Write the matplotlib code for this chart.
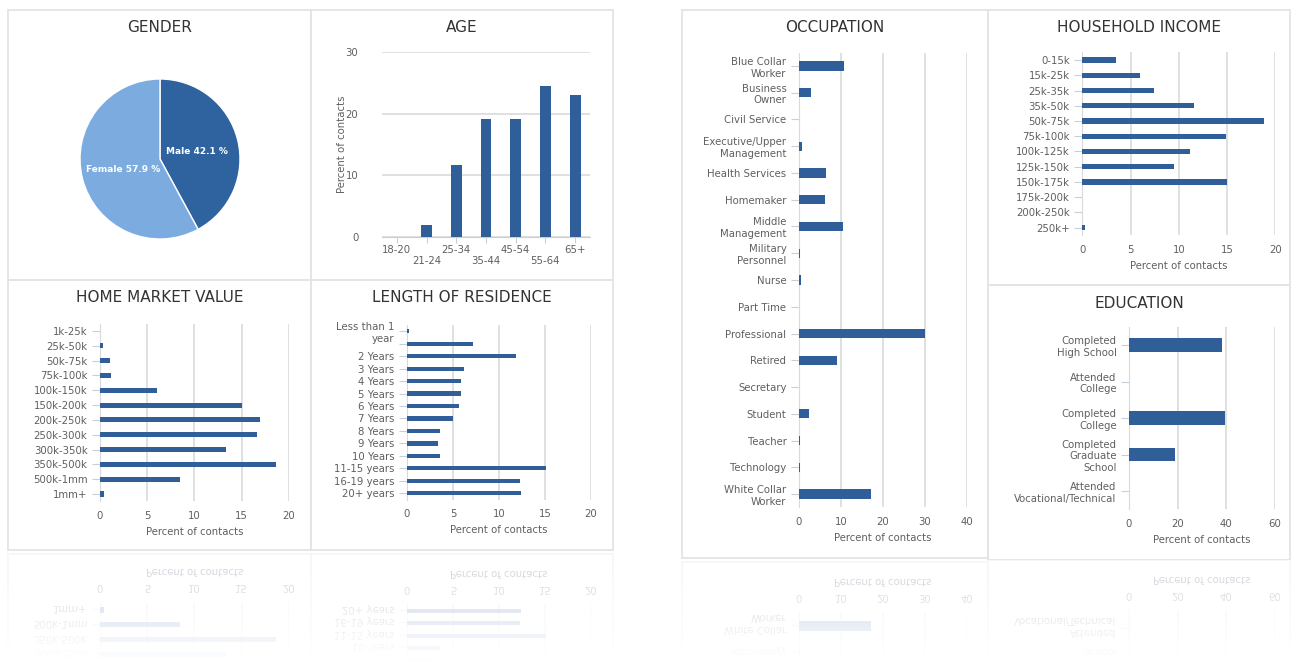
import numpy as np
import matplotlib.pyplot as plt
from matplotlib.patches import Rectangle

# ==========================================
# 1. DADOS
# ==========================================
genero_rotulos = ['Male', 'Female']
genero_pct = [42.1, 57.9]

idade_cats = ['18-20', '21-24', '25-34', '35-44', '45-54', '55-64', '65+']
idade_pct = [0.0, 2.0, 11.7, 19.1, 19.1, 24.5, 23.0]

imovel_cats = ['1k-25k', '25k-50k', '50k-75k', '75k-100k', '100k-150k', '150k-200k',
               '200k-250k', '250k-300k', '300k-350k', '350k-500k', '500k-1mm', '1mm+']
imovel_pct = [0.0, 0.35, 1.1, 1.2, 6.0, 15.1, 17.0, 16.6, 13.4, 18.7, 8.5, 0.4]

residencia_cats = ['Less than 1\nyear', '1 Year', '2 Years', '3 Years', '4 Years', '5 Years',
                   '6 Years', '7 Years', '8 Years', '9 Years', '10 Years',
                   '11-15 years', '16-19 years', '20+ years']
residencia_pct = [0.2, 7.2, 11.8, 6.2, 5.9, 5.9, 5.6, 5.0, 3.6, 3.4, 3.6, 15.1, 12.3, 12.4]

ocupacao_cats = ['Blue Collar\nWorker', 'Business\nOwner', 'Civil Service',
                 'Executive/Upper\nManagement', 'Health Services', 'Homemaker',
                 'Middle\nManagement', 'Military\nPersonnel', 'Nurse', 'Part Time',
                 'Professional', 'Retired', 'Secretary', 'Student', 'Teacher',
                 'Technology', 'White Collar\nWorker']
ocupacao_pct = [10.8, 2.9, 0.0, 0.8, 6.4, 6.3, 10.6, 0.3, 0.5, 0.0,
                30.0, 9.1, 0.0, 2.3, 0.3, 0.3, 17.1]

renda_cats = ['0-15k', '15k-25k', '25k-35k', '35k-50k', '50k-75k', '75k-100k',
              '100k-125k', '125k-150k', '150k-175k', '175k-200k', '200k-250k', '250k+']
renda_pct = [3.5, 6.0, 7.4, 11.6, 18.8, 14.9, 11.2, 9.5, 15.0, 0.0, 0.0, 0.3]

educacao_cats = ['Completed\nHigh School', 'Attended\nCollege', 'Completed\nCollege',
                 'Completed\nGraduate\nSchool', 'Attended\nVocational/Technical']
educacao_pct = [38.1, 0.0, 39.6, 18.9, 0.0]

# ==========================================
# 2. ESTILO E LAYOUT (em pixels)
# ==========================================
W, H = 1294, 662
AZUL = '#2f5e98'
AZUL_ESCURO = '#2f63a0'
AZUL_CLARO = '#7cacdf'
GRADE = '#dadada'
EIXO = '#c6d0dc'
TEXTO = '#5f5f5f'
TITULO = '#333333'
FS = 7.3

plt.rcParams['font.family'] = 'DejaVu Sans'

fig = plt.figure(figsize=(W / 100, H / 100), dpi=100)
fig.patch.set_facecolor('white')


def caixa(x0, y0, x1, y1):
    return [x0 / W, 1 - y1 / H, (x1 - x0) / W, (y1 - y0) / H]


def painel(x0, y0, x1, y1, titulo, ty):
    fig.add_artist(Rectangle((x0 / W, 1 - y1 / H), (x1 - x0) / W, (y1 - y0) / H,
                             transform=fig.transFigure, fill=False,
                             ec='#e4e4e4', lw=1.3))
    fig.text((x0 + x1) / 2 / W, 1 - ty / H, titulo, ha='center', va='center',
             fontsize=11, color=TITULO)


def barras_h(ret, cats, vals, xmax, passo, rotulos=None, altura=0.34):
    ax = fig.add_axes(caixa(*ret))
    y = np.arange(len(cats))
    ax.barh(y, vals, height=altura, color=AZUL, zorder=3)
    ax.set_ylim(len(cats) - 0.5, -0.5)
    ax.set_xlim(0, xmax)
    ax.set_xticks(np.arange(0, xmax + 1, passo))
    ax.set_yticks(y, cats if rotulos is None else rotulos)
    ax.grid(axis='x', color=GRADE, lw=1.2, zorder=0)
    for s in ['top', 'right', 'bottom']:
        ax.spines[s].set_visible(False)
    ax.spines['left'].set_color(GRADE)
    ax.tick_params(axis='y', length=6, width=0.8, color=EIXO, labelsize=FS,
                   labelcolor=TEXTO, pad=3)
    ax.tick_params(axis='x', length=0, labelsize=FS, labelcolor=TEXTO, pad=7)
    ax.set_xlabel('Percent of contacts', fontsize=FS, color=TEXTO, labelpad=4)
    return ax


# ==========================================
# 3. GRÁFICOS
# ==========================================
painel(8, 10, 311, 280, 'GENDER', 28)
painel(311, 10, 613, 280, 'AGE', 28)
painel(8, 280, 311, 550, 'HOME MARKET VALUE', 298)
painel(311, 280, 613, 550, 'LENGTH OF RESIDENCE', 298)
painel(682, 10, 988, 558, 'OCCUPATION', 28)
painel(988, 10, 1290, 285, 'HOUSEHOLD INCOME', 28)
painel(988, 285, 1290, 560, 'EDUCATION', 303)

# Gênero (pizza)
ax_g = fig.add_axes(caixa(80, 79, 240, 239))
fatias, _ = ax_g.pie(genero_pct, colors=[AZUL_ESCURO, AZUL_CLARO], startangle=90,
                     counterclock=False, radius=1,
                     wedgeprops=dict(edgecolor='white', linewidth=1))
for fatia, rot, pct in zip(fatias, genero_rotulos, genero_pct):
    ang = np.deg2rad((fatia.theta1 + fatia.theta2) / 2)
    ax_g.text(0.47 * np.cos(ang), 0.47 * np.sin(ang) - 0.02, f'{rot} {pct} %',
              ha='center', va='center', color='white', fontsize=6.5,
              fontweight='bold')
ax_g.set_xlim(-1, 1)
ax_g.set_ylim(-1, 1)
ax_g.set_aspect('equal')
ax_g.axis('off')

# Idade (colunas)
ax_i = fig.add_axes(caixa(382, 52, 590, 237))
x = np.arange(len(idade_cats))
ax_i.bar(x, idade_pct, width=0.37, color=AZUL, zorder=3)
ax_i.set_xlim(-0.5, len(idade_cats) - 0.5)
ax_i.set_ylim(0, 30)
ax_i.set_yticks([0, 10, 20, 30])
ax_i.set_xticks(x, [c if i % 2 == 0 else '\n' + c for i, c in enumerate(idade_cats)])
ax_i.grid(axis='y', color=GRADE, lw=1.2, zorder=0)
for s in ['top', 'right', 'left']:
    ax_i.spines[s].set_visible(False)
ax_i.spines['bottom'].set_color(EIXO)
ax_i.tick_params(axis='x', length=4, color=EIXO, labelsize=FS, labelcolor=TEXTO, pad=1.5)
ax_i.tick_params(axis='y', length=0, labelsize=FS, labelcolor=TEXTO, pad=17)
ax_i.set_ylabel('Percent of contacts', fontsize=FS, color=TEXTO)
ax_i.yaxis.set_label_coords(-0.166, 0.5)

# Barras horizontais
barras_h((100, 323.6, 288.7, 501.4), imovel_cats, imovel_pct, 20, 5)
barras_h((407, 325.0, 591, 499.5), residencia_cats, residencia_pct, 20, 5,
         rotulos=[c if i != 1 else '' for i, c in enumerate(residencia_cats)])
barras_h((799, 52.6, 966.7, 507.4), ocupacao_cats, ocupacao_pct, 40, 10)
barras_h((1082.3, 52.4, 1275.3, 235.3), renda_cats, renda_pct, 20, 5)
barras_h((1129, 326.8, 1275, 509.3), educacao_cats, educacao_pct, 60, 20, altura=0.37)

# ==========================================
# 4. REFLEXO NA PARTE DE BAIXO
# ==========================================
fig.canvas.draw()
rgb = np.asarray(fig.canvas.buffer_rgba())[:, :, :3].astype(float) / 255.0


def reflexo(x0, x1, espelho, alfa0=0.3):
    alto = H - espelho
    faixa = rgb[espelho - alto:espelho, x0:x1][::-1]
    alfa = np.linspace(alfa0, 0.0, alto)[:, None, None]
    # leve tom lilás no reflexo
    faixa = 1.0 - alfa * (1.0 - faixa) * np.array([1.0, 1.0, 0.8])
    fig.figimage(np.clip(faixa, 0, 1), xo=x0, yo=0, origin='upper', zorder=5)


reflexo(6, 616, 552)
reflexo(680, 1292, 560)

fig.savefig('out.png', dpi=100)
